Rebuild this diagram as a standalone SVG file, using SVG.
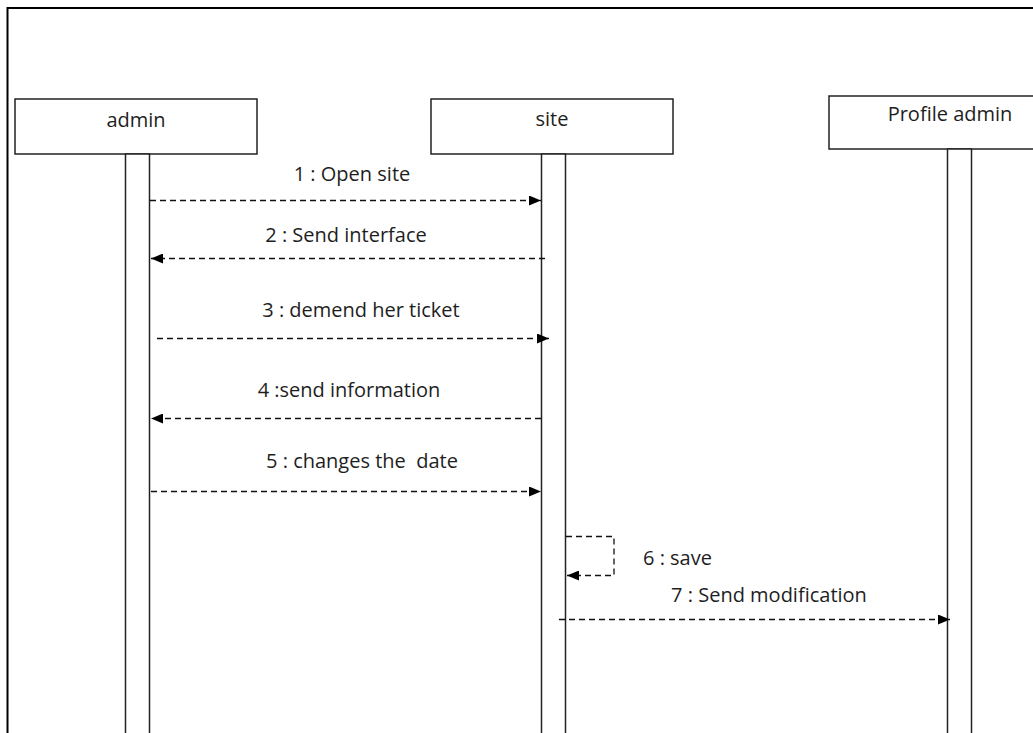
<svg xmlns="http://www.w3.org/2000/svg" width="1033" height="733" viewBox="0 0 1033 733">
  <style>
    .frame { fill: none; stroke: #000; stroke-width: 2; }
    .box { fill: #fff; stroke: #222; stroke-width: 1.5; }
    .life { fill: #fff; stroke: #222; stroke-width: 1.5; }
    .msg { fill: none; stroke: #111; stroke-width: 1.3; stroke-dasharray: 6 4; }
    .lbl { font-family: "Open Sans", "Noto Sans", sans-serif; font-size: 20px; fill: #1e1e1e; }
    .name { font-family: "Open Sans", "Noto Sans", sans-serif; font-size: 20px; fill: #1e1e1e; text-anchor: middle; }
  </style>
  <defs>
    <marker id="arrow" viewBox="0 0 12 10" refX="12" refY="5" markerWidth="12" markerHeight="10" markerUnits="userSpaceOnUse" orient="auto">
      <path d="M0,0 L12,5 L0,10 Z" fill="#000"/>
    </marker>
  </defs>
  <rect width="1033" height="733" fill="#fff"/>
  <!-- outer frame -->
  <path class="frame" d="M7.5,733 V8 H1040"/>

  <g id="admin">
    <rect class="box" x="15" y="99" width="242" height="55"/>
    <text class="name" x="136" y="122" dominant-baseline="middle">admin</text>
    <rect class="life" x="125.5" y="154" width="24" height="590"/>
  </g>

  <g id="site">
    <rect class="box" x="431" y="99" width="242" height="55"/>
    <text class="name" x="552" y="121" dominant-baseline="middle">site</text>
    <rect class="life" x="541.5" y="154" width="24" height="590"/>
  </g>

  <g id="profile-admin">
    <rect class="box" x="829" y="96" width="242" height="53"/>
    <text class="name" x="950" y="116" dominant-baseline="middle">Profile admin</text>
    <rect class="life" x="947.5" y="149" width="24" height="595"/>
  </g>

  <g id="messages">
    <line class="msg" x1="150" y1="200.5" x2="541" y2="200.5" marker-end="url(#arrow)"/>
    <text class="lbl" x="352" y="181" text-anchor="middle">1 : Open site</text>

    <line class="msg" x1="545" y1="258.5" x2="151" y2="258.5" marker-end="url(#arrow)"/>
    <text class="lbl" x="346" y="242" text-anchor="middle">2 : Send interface</text>

    <line class="msg" x1="157" y1="338.5" x2="549" y2="338.5" marker-end="url(#arrow)"/>
    <text class="lbl" x="361" y="317" text-anchor="middle">3 : demend her ticket</text>

    <line class="msg" x1="541" y1="418.5" x2="151" y2="418.5" marker-end="url(#arrow)"/>
    <text class="lbl" x="349" y="397" text-anchor="middle">4 :send information</text>

    <line class="msg" x1="151" y1="491.5" x2="541" y2="491.5" marker-end="url(#arrow)"/>
    <text class="lbl" x="362" y="468" text-anchor="middle" xml:space="preserve">5 : changes the  date</text>

    <path class="msg" d="M566,536.5 H614 V575.5 H567" marker-end="url(#arrow)"/>
    <text class="lbl" x="643" y="565">6 : save</text>

    <line class="msg" x1="559" y1="619.5" x2="950" y2="619.5" marker-end="url(#arrow)"/>
    <text class="lbl" x="769" y="602" text-anchor="middle">7 : Send modification</text>
  </g>
</svg>
